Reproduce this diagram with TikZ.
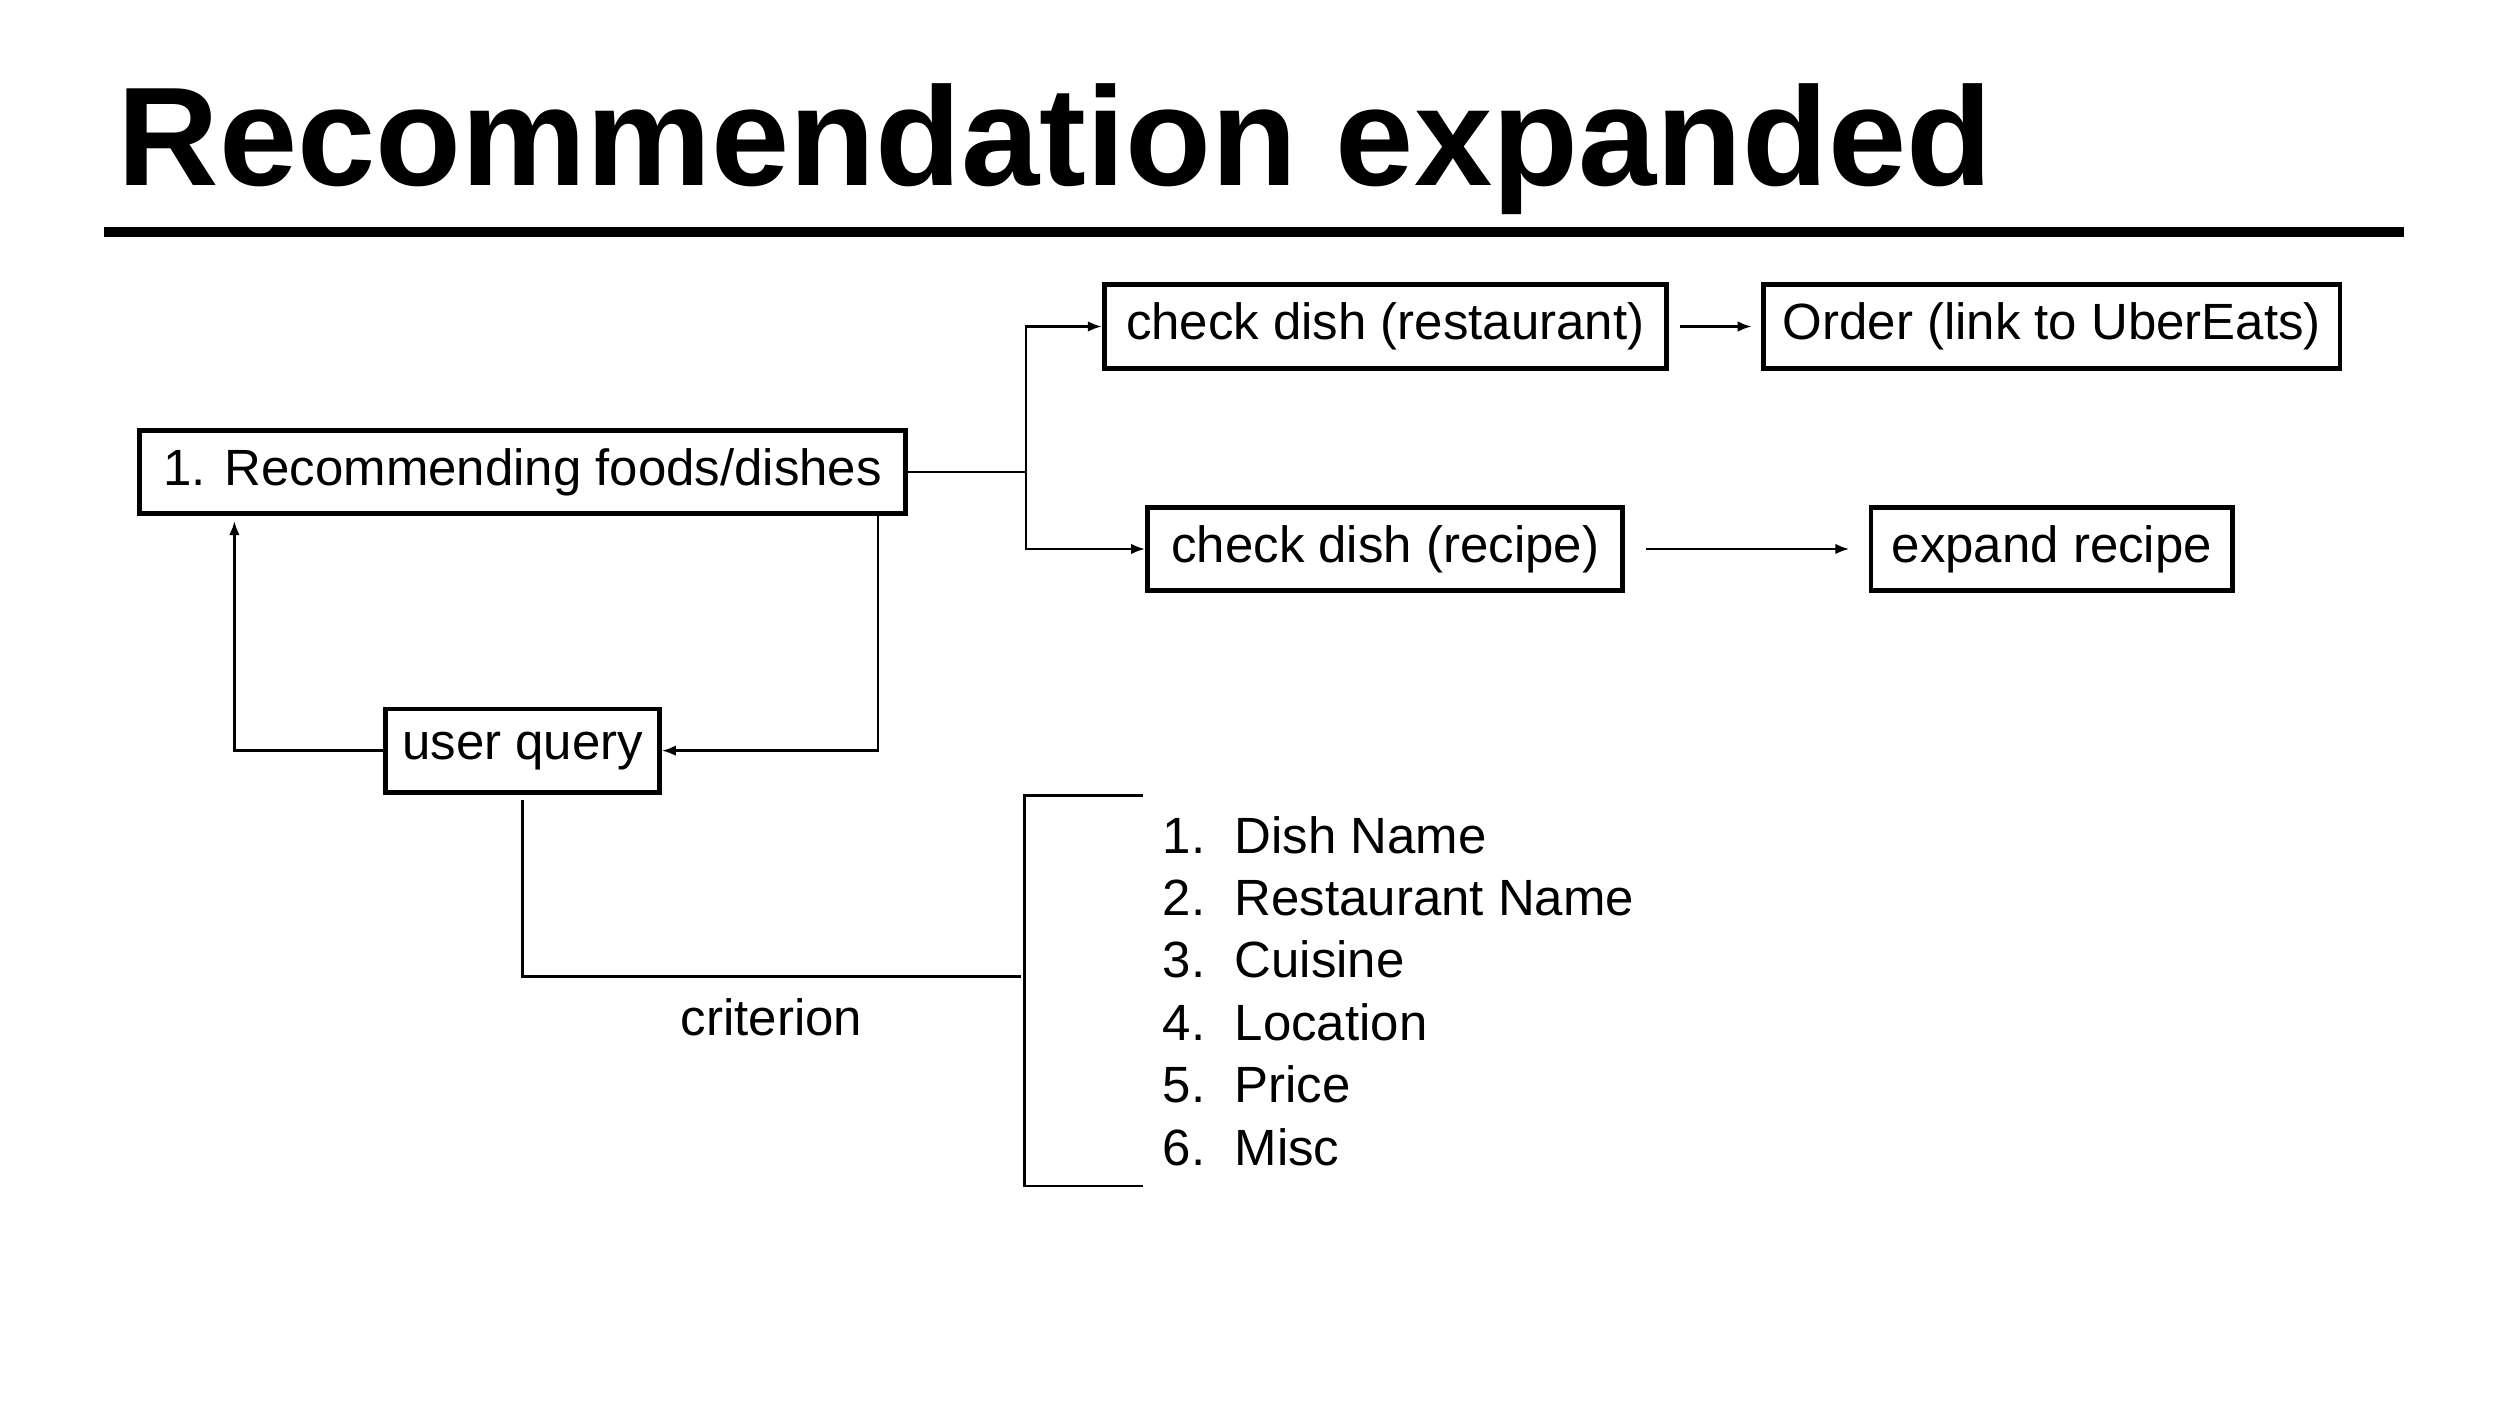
\documentclass[tikz,border=0pt]{standalone}
\usepackage{fontspec}
\setmainfont{Liberation Sans}
\usetikzlibrary{positioning}
\tikzset{
    stepbox/.style={draw, line width=1.4pt, inner sep=0pt, font=\fontsize{14.5}{16}\selectfont},
    link/.style={line width=0.7pt},
    arr/.style={link, -{Latex[length=4pt,width=3pt]}},
    item/.style={anchor=base west, inner sep=0pt, font=\fontsize{14.5}{16}\selectfont},
}
\usetikzlibrary{arrows.meta}
\begin{document}
\begin{tikzpicture}[x=0.016cm, y=-0.016cm]
    \useasboundingbox (0,0) rectangle (1562,878);
    % title
    \node[anchor=base west, inner sep=0pt, font=\fontsize{40}{44}\selectfont\bfseries] (title) at (73,116) {Recommendation expanded};
    \draw[line width=2.7pt] (65,145) -- (1502,145);
    % boxes
    \node[stepbox, minimum width=479*0.016cm, minimum height=52*0.016cm] (rec) at (326.5,295) {1. Recommending foods/dishes};
    \node[stepbox, minimum width=351*0.016cm, minimum height=52*0.016cm] (rest) at (865.5,204) {check dish (restaurant)};
    \node[stepbox, minimum width=360*0.016cm, minimum height=52*0.016cm] (order) at (1282,204) {Order (link to UberEats)};
    \node[stepbox, minimum width=297*0.016cm, minimum height=52*0.016cm] (recipe) at (865.5,343) {check dish (recipe)};
    \node[stepbox, minimum width=226*0.016cm, minimum height=52*0.016cm] (expand) at (1282,343) {expand recipe};
    \node[stepbox, minimum width=171*0.016cm, minimum height=52*0.016cm] (query) at (326.5,469) {user query};
    % connectors
    \coordinate (split) at (641,295);
    \draw[link] (rec.east) -- (split);
    \draw[arr] (split) |- (rest.west);
    \draw[arr] (split) |- (recipe.west);
    \draw[arr] ([xshift=7*0.016cm]rest.east) -- ([xshift=-6*0.016cm]order.west);
    \draw[arr] ([xshift=13*0.016cm]recipe.east) -- ([xshift=-12*0.016cm]expand.west);
    \draw[arr] ([xshift=-19*0.016cm]rec.south east) |- (query.east);
    \draw[arr] (query.west) -| ([xshift=61*0.016cm, yshift=-3*0.016cm]rec.south west);
    \coordinate (crit) at (638,610);
    \draw[link] ([yshift=-3*0.016cm]query.south) |- (crit);
    \node[anchor=base, inner sep=0pt, font=\fontsize{14.5}{16}\selectfont] (critlabel) at (482,647) {criterion};
    % bracket
    \draw[link] (714,497) -- (640,497) -- (640,741) -- (714,741);
    % list
    \foreach \n/\t [count=\i from 0] in {1/Dish Name, 2/Restaurant Name, 3/Cuisine, 4/Location, 5/Price, 6/Misc} {
        \node[item] (num\n) at (726,533+39*\i) {\n.};
        \node[item] (txt\n) at (771,533+39*\i) {\t};
    }
\end{tikzpicture}
\end{document}
